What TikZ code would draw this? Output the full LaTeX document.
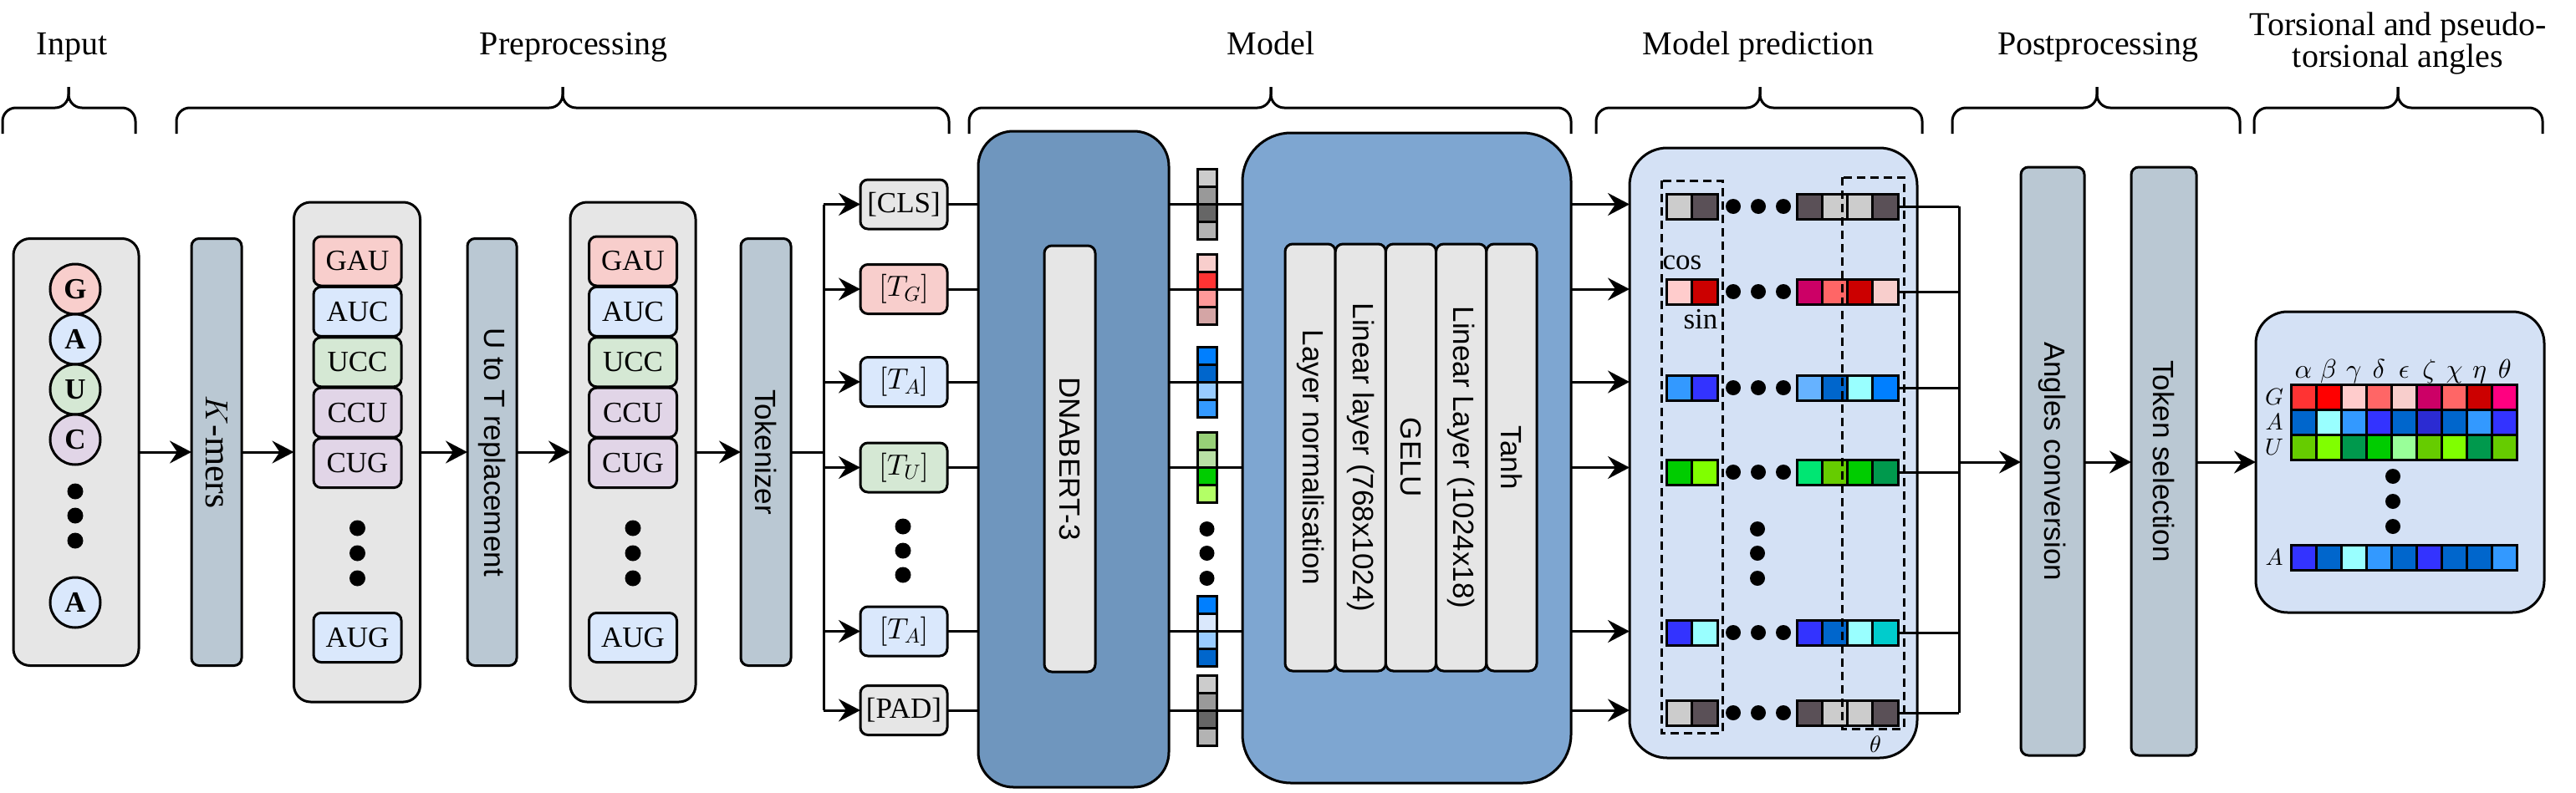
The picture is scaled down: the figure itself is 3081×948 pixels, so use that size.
\documentclass[tikz,border=0pt]{standalone}
\usepackage{fontspec}
\setmainfont{Liberation Serif}
\setsansfont{Liberation Sans}
\DeclareFontFamily{OML}{cmm}{\skewchar\font'177}
\DeclareFontShape{OML}{cmm}{m}{it}{<->cmmi10}{}
\DeclareFontShape{OML}{cmm}{b}{it}{<->cmmib10}{}
\DeclareFontFamily{OT1}{cmr}{\hyphenchar\font45}
\DeclareFontShape{OT1}{cmr}{m}{n}{<->cmr10}{}
\DeclareFontFamily{OMS}{cmsy}{\skewchar\font'60}
\DeclareFontShape{OMS}{cmsy}{m}{n}{<->cmsy10}{}
\DeclareFontFamily{OMX}{cmex}{}
\DeclareFontShape{OMX}{cmex}{m}{n}{<->cmex10}{}
\usetikzlibrary{arrows.meta}
\definecolor{boxgray}{HTML}{E6E6E6}
\definecolor{barblue}{HTML}{BAC8D3}
\definecolor{gpink}{HTML}{F8CECC}
\definecolor{ablue}{HTML}{DAE8FC}
\definecolor{ugreen}{HTML}{D5E8D4}
\definecolor{cpurple}{HTML}{E1D5E7}
\definecolor{bertblue}{HTML}{6F96BE}
\definecolor{headblue}{HTML}{7EA6D1}
\definecolor{predblue}{HTML}{D4E1F5}
\newcommand{\ftitle}{\fontsize{40}{46}\selectfont}
\newcommand{\fbody}{\fontsize{35}{42}\selectfont}
\newcommand{\fgreek}{\fontsize{32}{38}\selectfont}
\newcommand{\flab}{\fontsize{28}{34}\selectfont}
\newcommand{\hrow}[5]{\foreach \col [count=\i from 0] in {#5}{\definecolor{cellc}{HTML}{\col}\draw[sqcell, fill=cellc] ({#1+\i*#3},{#2}) rectangle ++(#3,#4);}}
\newcommand{\vcolm}[5]{\foreach \col [count=\i from 0] in {#5}{\definecolor{cellc}{HTML}{\col}\draw[sqcell, fill=cellc] ({#1},{#2+\i*#4}) rectangle ++(#3,#4);}}
\newcommand{\bracepath}[3]{%
  \draw[brc] (#1,160) -- (#1,129) -- (#2,129) -- (#2,104);
  \draw[brc] (#3,160) -- (#3,129) -- (#2,129) -- (#2,104);}
\tikzset{
  bx/.style={draw, line width=3pt, inner sep=0pt, outer sep=0pt},
  gbox/.style={bx, fill=boxgray, rounded corners=20pt},
  barbox/.style={bx, fill=barblue, rounded corners=9pt},
  kbox/.style={bx, rounded corners=9pt, minimum width=105pt, minimum height=59pt, font=\fbody},
  tokbox/.style={bx, rounded corners=9pt, minimum width=104pt, minimum height=59pt, font=\fbody},
  layerbox/.style={bx, fill=boxgray, rounded corners=9pt, minimum width=60.2pt, minimum height=511pt},
  nuc/.style={bx, circle, minimum size=60pt, font=\fbody\bfseries},
  vlabel/.style={rotate=-90, inner sep=0pt},
  conn/.style={line width=3pt},
  arr/.style={conn, -{Stealth[length=26pt, width=27pt, inset=9pt]}},
  ttl/.style={font=\ftitle, anchor=base, inner sep=0pt},
  brc/.style={line width=3pt, rounded corners=16pt},
  sqcell/.style={draw, line width=3pt},
  dashbox/.style={line width=3pt, dash pattern=on 10pt off 6pt},
}
\begin{document}
\begin{tikzpicture}[x=1pt, y=-1pt]
\useasboundingbox (0,0) rectangle (3081,948);

% ---------- titles and braces ----------
\node[ttl] (t1) at (86,65) {Input};
\node[ttl] (t2) at (686,65) {Preprocessing};
\node[ttl] (t3) at (1520,65) {Model};
\node[ttl] (t4) at (2103,65) {Model prediction};
\node[ttl] (t5) at (2509,65) {Postprocessing};
\node[ttl] (t6) at (2868,42) {Torsional and pseudo-};
\node[ttl] (t7) at (2868,80) {torsional angles};
\bracepath{3}{82}{162}
\bracepath{211}{673}{1135}
\bracepath{1159}{1520}{1879}
\bracepath{1909}{2105}{2299}
\bracepath{2335}{2508}{2679}
\bracepath{2696}{2868}{3041}

% ---------- input ----------
\node[gbox, minimum width=150pt, minimum height=511pt] (inbox) at (91,541) {};
\node[nuc, fill=gpink] (n1) at (90,346) {G};
\node[nuc, fill=ablue] (n2) at (90,406) {A};
\node[nuc, fill=ugreen] (n3) at (90,466) {U};
\node[nuc, fill=cpurple] (n4) at (90,526) {C};
\node[nuc, fill=ablue] (n5) at (90,721) {A};
\fill (90,588) circle (9.5pt) (90,617) circle (9.5pt) (90,647) circle (9.5pt);

% ---------- K-mers ----------
\node[barbox, minimum width=60pt, minimum height=511pt] (kmers) at (259,541) {};
\node[vlabel] (kmerslab) at (kmers.center) {{\fontsize{38}{44}\selectfont$K$}{\fontsize{44}{50}\selectfont-mers}};

% ---------- k-mer list 1 ----------
\node[gbox, minimum width=151pt, minimum height=598pt] (klist1) at (427,541) {};
\node[kbox, fill=gpink] (a1) at (427.5,312.5) {GAU};
\node[kbox, fill=ablue] (a2) at (427.5,372.9) {AUC};
\node[kbox, fill=ugreen] (a3) at (427.5,433.3) {UCC};
\node[kbox, fill=cpurple] (a4) at (427.5,493.7) {CCU};
\node[kbox, fill=cpurple] (a5) at (427.5,554.1) {CUG};
\node[kbox, fill=ablue] (a6) at (427.5,763) {AUG};
\fill (427.5,632) circle (9.5pt) (427.5,662) circle (9.5pt) (427.5,692) circle (9.5pt);

% ---------- U to T ----------
\node[barbox, minimum width=59pt, minimum height=511pt] (utot) at (588.5,541) {};
\node[vlabel, font=\fbody\sffamily] (utotlab) at (utot.center) {U to T replacement};

% ---------- k-mer list 2 ----------
\node[gbox, minimum width=150pt, minimum height=598pt] (klist2) at (757,541) {};
\node[kbox, fill=gpink] (b1) at (757,312.5) {GAU};
\node[kbox, fill=ablue] (b2) at (757,372.9) {AUC};
\node[kbox, fill=ugreen] (b3) at (757,433.3) {UCC};
\node[kbox, fill=cpurple] (b4) at (757,493.7) {CCU};
\node[kbox, fill=cpurple] (b5) at (757,554.1) {CUG};
\node[kbox, fill=ablue] (b6) at (757,763) {AUG};
\fill (757,632) circle (9.5pt) (757,662) circle (9.5pt) (757,692) circle (9.5pt);

% ---------- Tokenizer ----------
\node[barbox, minimum width=60pt, minimum height=511pt] (tokz) at (916,541) {};
\node[vlabel, font=\fbody\sffamily] (tokzlab) at (tokz.center) {Tokenizer};

% ---------- tokens ----------
\node[tokbox, fill=boxgray] (k1) at (1081,244.5) {[CLS]};
\node[tokbox, fill=gpink] (k2) at (1081,346) {$[T_G]$};
\node[tokbox, fill=ablue] (k3) at (1081,457) {$[T_A]$};
\node[tokbox, fill=ugreen] (k4) at (1081,559.5) {$[T_U]$};
\node[tokbox, fill=ablue] (k5) at (1081,755.5) {$[T_A]$};
\node[tokbox, fill=boxgray] (k6) at (1081,850) {[PAD]};
\fill (1080,630) circle (9.5pt) (1080,659) circle (9.5pt) (1080,688) circle (9.5pt);

% ---------- main arrows ----------
\draw[arr] (inbox) -- (kmers);
\draw[arr] (kmers) -- (klist1);
\draw[arr] (klist1) -- (utot);
\draw[arr] (utot) -- (klist2);
\draw[arr] (klist2) -- (tokz);
\coordinate (bus) at (985,541);
\draw[conn] (tokz) -- (bus);
\draw[conn] (bus |- k1.west) -- (bus |- k6.west);
\foreach \k in {k1,k2,k3,k4,k5,k6}{\draw[arr] (bus |- \k.west) -- (\k.west);}

% ---------- model ----------
\node[bx, fill=bertblue, rounded corners=42pt, minimum width=228pt, minimum height=785pt] (bert) at (1284,549.5) {};
\node[bx, fill=boxgray, rounded corners=9pt, minimum width=61pt, minimum height=510pt] (bertin) at (1279.5,549) {};
\node[vlabel, font=\fbody\sffamily] (bertlab) at (bertin.center) {DNABERT-3};

\node[bx, fill=headblue, rounded corners=58pt, minimum width=393pt, minimum height=778pt] (head) at (1682.5,548) {};
\node[layerbox] (l1) at (1567.1,547.5) {};
\node[layerbox] (l2) at (1627.3,547.5) {};
\node[layerbox] (l3) at (1687.5,547.5) {};
\node[layerbox] (l4) at (1747.7,547.5) {};
\node[layerbox] (l5) at (1807.9,547.5) {};
\node[vlabel, font=\fbody\sffamily] (l1lab) at (l1.center) {Layer normalisation};
\node[vlabel, font=\fbody\sffamily] (l2lab) at (l2.center) {Linear layer (768x1024)};
\node[vlabel, font=\fbody\sffamily] (l3lab) at (l3.center) {GELU};
\node[vlabel, font=\fbody\sffamily] (l4lab) at (l4.center) {Linear Layer (1024x18)};
\node[vlabel, font=\fbody\sffamily] (l5lab) at (l5.center) {Tanh};

% ---------- prediction box ----------
\node[bx, fill=predblue, rounded corners=45pt, minimum width=344pt, minimum height=730pt] (pred) at (2121,542) {};

% token -> bert -> head -> pred
\foreach \k in {k1,k2,k3,k4,k5,k6}{
  \draw[conn] (\k.east) -- (\k.east -| bert.west);
  \draw[conn] (\k.east -| bert.east) -- (\k.east -| head.west);
  \draw[arr] (\k.east -| head.east) -- (\k.east -| pred.west);
}
% embedding vectors
\vcolm{1432}{202.5}{23}{21}{CCCCCC,999999,666666,B3B3B3}
\vcolm{1432}{304}{23}{21}{F8CECC,FF3333,FF9999,D4A5A5}
\vcolm{1432}{415}{23}{21}{007FFF,0066CC,99CCFF,3399FF}
\vcolm{1432}{517.5}{23}{21}{97D077,B9E0A5,00CC00,B3FF66}
\vcolm{1432}{713.5}{23}{21}{007FFF,DAE8FC,99CCFF,0066CC}
\vcolm{1432}{808}{23}{21}{CCCCCC,999999,666666,B3B3B3}
\fill (1443.5,633) circle (9pt) (1443.5,662) circle (9pt) (1443.5,692) circle (9pt);

% prediction rows
\hrow{1993}{232}{30.5}{30}{CCCCCC,5A5057}
\hrow{2149}{232}{30.25}{30}{5A5057,CCCCCC,CCCCCC,5A5057}
\hrow{1993}{334}{30.5}{30}{FFCCCC,CC0000}
\hrow{2149}{334}{30.25}{30}{CC0066,FF6666,CC0000,F8CECC}
\hrow{1993}{449}{30.5}{30}{3399FF,3333FF}
\hrow{2149}{449}{30.25}{30}{66B2FF,0066CC,99FFFF,007FFF}
\hrow{1993}{550}{30.5}{30}{00CC00,80FF00}
\hrow{2149}{550}{30.25}{30}{00E673,66CC00,00CC00,00994D}
\hrow{1993}{742}{30.5}{30}{3333FF,99FFFF}
\hrow{2149}{742}{30.25}{30}{3333FF,0066CC,99FFFF,00CCCC}
\hrow{1993}{838}{30.5}{30}{CCCCCC,5A5057}
\hrow{2149}{838}{30.25}{30}{5A5057,CCCCCC,CCCCCC,5A5057}
\foreach \y in {247,349,464,565,757,853}{
  \fill (2073,\y) circle (9pt) (2103,\y) circle (9pt) (2133,\y) circle (9pt);}
\fill (2102,633) circle (9pt) (2102,662) circle (9pt) (2102,692) circle (9pt);
\draw[dashbox] (1987,216) rectangle (2060,877);
\draw[dashbox] (2203,212) rectangle (2277,872);
\node[font=\fbody, inner sep=0pt] (coslab) at (2012,314) {$\cos$};
\node[font=\fbody, inner sep=0pt] (sinlab) at (2034,382) {$\sin$};
\node[font=\flab, inner sep=0pt] (thlab) at (2243,891) {$\theta$};

% ---------- postprocessing ----------
\node[barbox, minimum width=76pt, minimum height=704pt] (angconv) at (2455,552) {};
\node[vlabel, font=\fbody\sffamily] (angconvlab) at (angconv.center) {Angles conversion};
\node[barbox, minimum width=78pt, minimum height=704pt] (toksel) at (2588,552) {};
\node[vlabel, font=\fbody\sffamily] (toksellab) at (toksel.center) {Token selection};
\coordinate (pbus) at (2343,553);
\foreach \y in {247,349,464,565,757,853}{\draw[conn] (2270,\y) -- (pbus |- 0,\y);}
\draw[conn] (pbus |- 0,247) -- (pbus |- 0,853);
\draw[arr] (pbus) -- (pbus -| angconv.west);
\draw[arr] (pbus -| angconv.east) -- (pbus -| toksel.west);

% ---------- output ----------
\node[bx, fill=predblue, rounded corners=38pt, minimum width=345pt, minimum height=360pt] (outbox) at (2870.5,553) {};
\draw[arr] (pbus -| toksel.east) -- (pbus -| outbox.west);
\hrow{2740}{460}{30.1}{30}{FF3333,FF0000,FFCCCC,FF6666,F8CECC,CC0066,FF6666,CC0000,FF0080}
\hrow{2740}{490}{30.1}{30}{0066CC,99FFFF,3399FF,3333FF,0066CC,2B2BD2,0066CC,3399FF,3333FF}
\hrow{2740}{520}{30.1}{30}{66CC00,80FF00,00994D,00CC00,99FF99,66CC00,80FF00,00994D,66CC00}
\hrow{2740}{652}{30.1}{30}{3333FF,0066CC,99FFFF,3399FF,0066CC,3333FF,0066CC,0066CC,3399FF}
\foreach \g [count=\i from 0] in {\alpha,\beta,\gamma,\delta,\epsilon,\zeta,\chi,\eta,\theta}{
  \node[font=\fgreek, anchor=base, inner sep=0pt] (gr\i) at ({2755+\i*30.1},452) {$\g$};}
\node[font=\flab, inner sep=0pt] (rg) at (2720,475) {$G$};
\node[font=\flab, inner sep=0pt] (ra) at (2720,505) {$A$};
\node[font=\flab, inner sep=0pt] (ru) at (2720,535) {$U$};
\node[font=\flab, inner sep=0pt] (ra2) at (2720,667) {$A$};
\fill (2862,570) circle (9pt) (2862,600) circle (9pt) (2862,630) circle (9pt);
\end{tikzpicture}
\end{document}
